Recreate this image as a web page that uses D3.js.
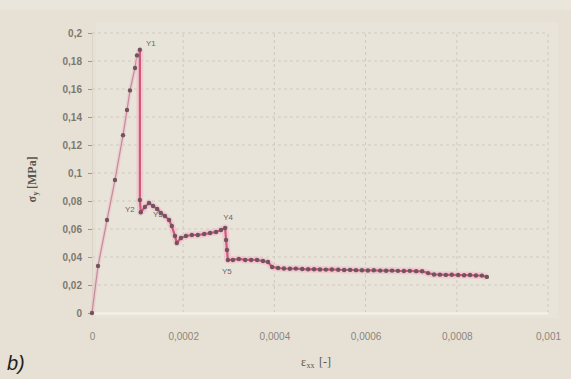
<!DOCTYPE html>
<html><head><meta charset="utf-8">
<script src="https://cdn.jsdelivr.net/npm/d3@7"></script>
<style>
html,body{margin:0;padding:0;background:#e7e1d5;}
svg{display:block;}
</style></head>
<body>
<svg id="c" width="571" height="379"></svg>
<script>
// ---- data ----
const strain = [
  0, 0.0000132, 0.0000329, 0.0000504, 0.000068, 0.0000768, 0.0000833, 0.0000943, 0.0000987, 0.000105,
  0.000105, 0.000107, 0.000116, 0.000125, 0.000134, 0.000143, 0.000151, 0.00016, 0.000169, 0.000175,
  0.000182, 0.000186, 0.000195, 0.000206, 0.000219, 0.000232, 0.000246, 0.000259, 0.000272, 0.000283,
  0.000292, 0.000294, 0.000296, 0.000298, 0.000309, 0.000322, 0.000336, 0.000349, 0.000362, 0.000375,
  0.000386, 0.000395, 0.000408,
  0.000421, 0.000434, 0.000447, 0.000461, 0.000474, 0.000487, 0.0005, 0.000513, 0.000526, 0.00054,
  0.000553, 0.000566, 0.000579, 0.000592, 0.000605, 0.000618, 0.000632, 0.000645, 0.000658, 0.000671,
  0.000684, 0.000697, 0.000711, 0.000724,
  0.000737, 0.00075, 0.000763, 0.000776, 0.000789, 0.000803, 0.000816, 0.000829, 0.000842, 0.000855, 0.000866
];
const stress = [
  0, 0.0336, 0.0664, 0.095, 0.127, 0.145, 0.159, 0.175, 0.184, 0.188,
  0.0807, 0.072, 0.0757, 0.0786, 0.0764, 0.0743, 0.0714, 0.0693, 0.0664, 0.0621,
  0.055, 0.05, 0.0536, 0.055, 0.0557, 0.0557, 0.0564, 0.0571, 0.0579, 0.0593,
  0.0607, 0.0521, 0.045, 0.0379, 0.0379, 0.0386, 0.0379, 0.0379, 0.0379, 0.0371,
  0.0364, 0.0329, 0.0321,
  0.0318, 0.0316, 0.0317, 0.0314, 0.0312, 0.0313, 0.0311, 0.031, 0.0311, 0.0309,
  0.0307, 0.0308, 0.0306, 0.0305, 0.0304, 0.0305, 0.0303, 0.0302, 0.0303, 0.0301,
  0.03, 0.0301, 0.0299, 0.0298,
  0.0285, 0.0275, 0.0274, 0.0272, 0.0273, 0.0271, 0.027, 0.0271, 0.0268, 0.0267, 0.0258
];
const peakIndex = 9;
const pointLabels = [
  {i: 9, text: "Y1"},
  {i: 10, text: "Y2"},
  {i: 13, text: "Y3"},
  {i: 30, text: "Y4"},
  {i: 33, text: "Y5"},
  {i: 78, text: "Y11"}
];
const xTicks = [0, 0.0002, 0.0004, 0.0006, 0.0008, 0.001];
const xTickLabels = ["0", "0,0002", "0,0004", "0,0006", "0,0008", "0,001"];
const yTicks = [0, 0.02, 0.04, 0.06, 0.08, 0.1, 0.12, 0.14, 0.16, 0.18, 0.2];
const yTickLabels = ["0", "0,02", "0,04", "0,06", "0,08", "0,1", "0,12", "0,14", "0,16", "0,18", "0,2"];
const xTitle = "ε";
const xTitleSub = "xx";
const xTitleTail = "[-]";
const yTitle = "σ";
const yTitleSub = "y";
const yTitleTail = "[MPa]";
const panelLabel = "b)";

// ---- drawing ----
const svg = d3.select("#c");
const x = d3.scaleLinear().domain([0, 0.001]).range([92, 548]);
const y = d3.scaleLinear().domain([0, 0.2]).range([313, 33]);

svg.append("rect").attr("x",0).attr("y",0).attr("width",571).attr("height",379).attr("fill","#e7e1d5");
svg.append("rect").attr("x",0).attr("y",0).attr("width",571).attr("height",10).attr("fill","#ebe6dc");
svg.append("rect").attr("x",96).attr("y",22).attr("width",462).attr("height",296).attr("fill","#e9e4da");

// grid
const grid = svg.append("g");
grid.selectAll("line.h").data(yTicks.slice(1)).join("line")
  .attr("x1", x(0)).attr("x2", x(0.001))
  .attr("y1", d => y(d)).attr("y2", d => y(d))
  .attr("stroke", "#cfc9be").attr("stroke-width", 1).attr("stroke-dasharray", "3,3");
grid.selectAll("line.v").data(xTicks.slice(1)).join("line")
  .attr("x1", d => x(d)).attr("x2", d => x(d))
  .attr("y1", y(0)).attr("y2", y(0.2))
  .attr("stroke", "#cfc9be").attr("stroke-width", 1).attr("stroke-dasharray", "3,3");

// axes
const xAxis = d3.axisBottom(x).tickValues(xTicks).tickFormat((d,i) => xTickLabels[i]).tickSize(0).tickPadding(20);
const gx = svg.append("g").attr("transform", `translate(0,${y(0)})`).call(xAxis);
gx.select(".domain").attr("stroke", "#f2eee6").attr("stroke-width", 3);
gx.selectAll("text").attr("fill", "#8a857c").attr("font-family", "Liberation Sans, Arial, sans-serif").attr("font-size", 10);

const yAxis = d3.axisLeft(y).tickValues(yTicks).tickFormat((d,i) => yTickLabels[i]).tickSize(4).tickPadding(6);
const gy = svg.append("g").attr("transform", `translate(${x(0)},0)`).call(yAxis);
gy.select(".domain").attr("stroke", "#d8d2c7").attr("stroke-width", 1);
gy.selectAll(".tick line").attr("stroke", "#9a948a");
gy.selectAll("text").attr("fill", "#7d786f").attr("font-family", "Liberation Sans, Arial, sans-serif").attr("font-size", 10).attr("font-weight", "bold");

// lines
const pts = strain.map((s, i) => [s, stress[i]]);
const line = d3.line().x(d => x(d[0])).y(d => y(d[1]));
const rising = pts.slice(0, peakIndex + 1);
const post = pts.slice(peakIndex);
svg.append("path").datum(rising).attr("d", line).attr("fill", "none")
  .attr("stroke", "#eac3cc").attr("stroke-width", 4).attr("opacity", 0.6);
svg.append("path").datum(rising).attr("d", line).attr("fill", "none")
  .attr("stroke", "#c78a99").attr("stroke-width", 1.2);
svg.append("path").datum(post).attr("d", line).attr("fill", "none")
  .attr("stroke", "#f1bfcb").attr("stroke-width", 7).attr("opacity", 0.7).attr("stroke-linejoin","round");
svg.append("path").datum(post).attr("d", line).attr("fill", "none")
  .attr("stroke", "#d0597a").attr("stroke-width", 2.2).attr("stroke-linejoin","round");

svg.append("g").selectAll("circle").data(pts).join("circle")
  .attr("cx", d => x(d[0])).attr("cy", d => y(d[1])).attr("r", 2.2)
  .attr("fill", "#6e5560");

// point labels
const offsets = {"Y1":[6,-4], "Y2":[-15,12], "Y3":[4,14], "Y4":[-2,-8], "Y5":[-6,14], "Y11":[8,-8]};
svg.append("g").selectAll("text").data(pointLabels).join("text")
  .attr("x", d => x(strain[d.i]) + offsets[d.text][0])
  .attr("y", d => y(stress[d.i]) + offsets[d.text][1])
  .attr("font-family", "Liberation Sans, Arial, sans-serif").attr("font-size", 8)
  .attr("fill", "#6a655e").text(d => d.text);

// titles (separate text pieces, no tspans)
const serif = "Liberation Serif, serif";
svg.append("text").attr("x", 306).attr("y", 366).attr("text-anchor", "end")
  .attr("font-family", serif).attr("font-size", 12).attr("fill", "#5a554e").text(xTitle);
svg.append("text").attr("x", 306.5).attr("y", 368).attr("text-anchor", "start")
  .attr("font-family", serif).attr("font-size", 8).attr("fill", "#5a554e").text(xTitleSub);
svg.append("text").attr("x", 319).attr("y", 366).attr("text-anchor", "start")
  .attr("font-family", serif).attr("font-size", 12).attr("fill", "#5a554e").text(xTitleTail);

const yg = svg.append("g").attr("transform", "translate(36,173) rotate(-90)");
yg.append("text").attr("x", -23).attr("y", 0).attr("text-anchor", "end")
  .attr("font-family", serif).attr("font-size", 12).attr("font-weight", "bold").attr("fill", "#5a554e").text(yTitle);
yg.append("text").attr("x", -22.5).attr("y", 2).attr("text-anchor", "start")
  .attr("font-family", serif).attr("font-size", 8).attr("font-weight", "bold").attr("fill", "#5a554e").text(yTitleSub);
yg.append("text").attr("x", -16).attr("y", 0).attr("text-anchor", "start")
  .attr("font-family", serif).attr("font-size", 12).attr("font-weight", "bold").attr("fill", "#5a554e").text(yTitleTail);

svg.append("text").attr("x", 7).attr("y", 370)
  .attr("font-family", "Liberation Sans, Arial, sans-serif").attr("font-size", 20).attr("font-style", "italic")
  .attr("fill", "#222").text(panelLabel);
</script>
</body></html>
